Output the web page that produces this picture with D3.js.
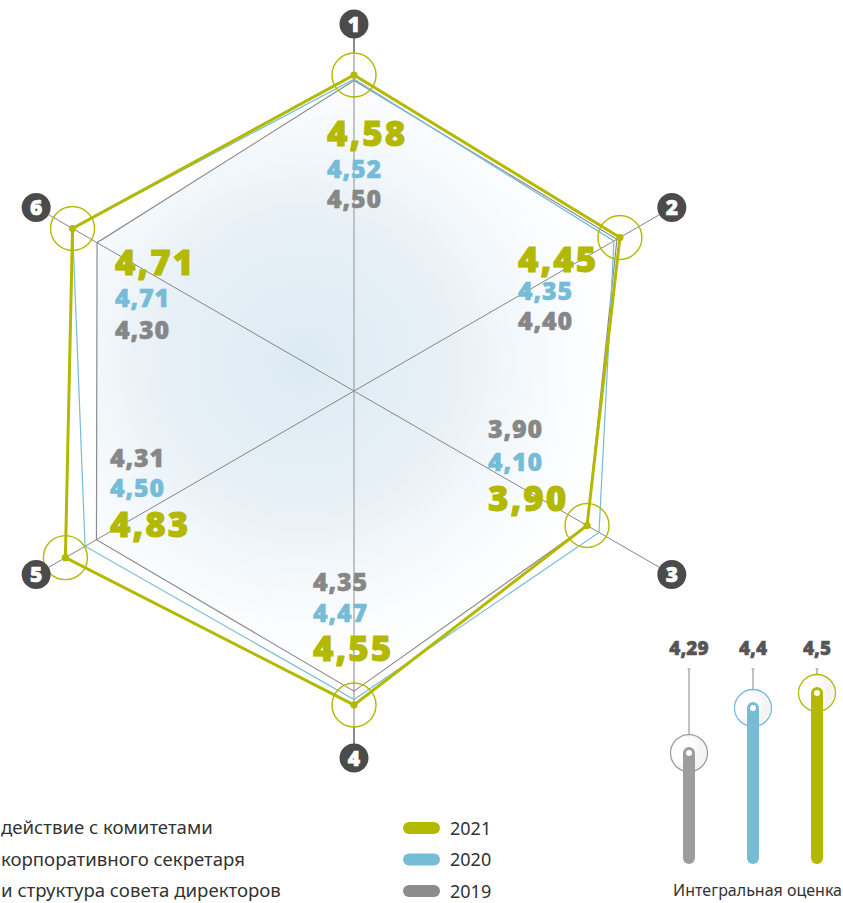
<!DOCTYPE html>
<html><head><meta charset="utf-8">
<script src="https://cdn.jsdelivr.net/npm/d3@7/dist/d3.min.js"></script>
<style>
html,body{margin:0;padding:0;background:#fff;}
svg{display:block;}
</style></head>
<body>
<svg id="chart" width="843" height="903"></svg>
<script>
// ---- data ----
const axisIds = ["1","2","3","4","5","6"];
const years = ["2021","2020","2019"];
const values2021 = [4.58, 4.45, 3.90, 4.55, 4.83, 4.71];
const values2020 = [4.52, 4.35, 4.10, 4.47, 4.50, 4.71];
const values2019 = [4.50, 4.40, 3.90, 4.35, 4.31, 4.30];
const legendTexts = ["действие с комитетами", "корпоративного секретаря", "и структура совета директоров"];
const integralYears = ["2019","2020","2021"];
const integralValues = [4.29, 4.4, 4.5];
const integralLabels = ["4,29","4,4","4,5"];
const integralTitle = "Интегральная оценка";

// ---- styles ----
const colors = {"2021":"#b3b800","2020":"#76bcd7","2019":"#8c8c8c"};
const fmt = v => v.toFixed(2).replace(".", ",");

const svg = d3.select("#chart");
const cx = 354, cy = 391;
const r = d3.scaleLinear().domain([0, 5]).range([0, 345]);
const angle = i => i * Math.PI / 3; // clockwise from up
const pt = (i, rad) => [cx + rad * Math.sin(angle(i)), cy - rad * Math.cos(angle(i))];

const defs = svg.append("defs");
const rg = defs.append("radialGradient").attr("id","bg").attr("gradientUnits","userSpaceOnUse")
  .attr("cx", cx - 50).attr("cy", cy - 30).attr("r", 310);
rg.append("stop").attr("offset","0").attr("stop-color","#dcebf3");
rg.append("stop").attr("offset","0.45").attr("stop-color","#e7f0f6");
rg.append("stop").attr("offset","0.8").attr("stop-color","#f8fbfd");
rg.append("stop").attr("offset","1").attr("stop-color","#ffffff");

const lineGen = d3.line();
const polyPts = vals => vals.map((v,i) => pt(i, r(v)));

// background fill
svg.append("path").attr("d", lineGen(polyPts(values2019)) + "Z").attr("fill","url(#bg)");

// axes
const badgeR = 367;
axisIds.forEach((id,i) => {
  const [x2,y2] = pt(i, badgeR - 14);
  svg.append("line").attr("x1",cx).attr("y1",cy).attr("x2",x2).attr("y2",y2)
    .attr("stroke", (i%3===0) ? "#b4b4b4" : "#858585")
    .attr("stroke-width", (i%3===0) ? 1.6 : 1);
  if (i%3===0) {
    const [xa,ya] = pt(i, r(values2021[i]) + 22);
    svg.append("line").attr("x1",xa).attr("y1",ya).attr("x2",x2).attr("y2",y2)
      .attr("stroke","#7d7d7d").attr("stroke-width",1.6);
  }
});

// polygons
[["2019",values2019,1.2],["2020",values2020,1.2],["2021",values2021,3]].forEach(([y,vals,w]) => {
  svg.append("path").attr("d", lineGen(polyPts(vals)) + "Z")
    .attr("fill","none").attr("stroke", colors[y]).attr("stroke-width", w)
    .attr("stroke-linejoin","miter");
});

// 2021 markers
polyPts(values2021).forEach(([x,y]) => {
  svg.append("circle").attr("cx",x).attr("cy",y).attr("r",22)
    .attr("fill","none").attr("stroke",colors["2021"]).attr("stroke-width",1.4);
  svg.append("circle").attr("cx",x).attr("cy",y).attr("r",3.6).attr("fill",colors["2021"]);
});

// value labels: layout per axis [left x, baseline 2021, 2020, 2019]
const labelLayout = [
  [327, 146, 178, 208],
  [518, 272, 300, 330],
  [488, 511, 471, 438],
  [313, 661, 622, 591],
  [110, 537, 497, 467],
  [115, 275, 307, 339]
];
const font = "'Open Sans', sans-serif";
axisIds.forEach((id,i) => {
  const L = labelLayout[i];
  [[values2021,"2021",35,L[1]],[values2020,"2020",25,L[2]],[values2019,"2019",25,L[3]]].forEach(([vals,y,fs,base]) => {
    svg.append("text").attr("x",L[0]).attr("y",base)
      .attr("font-family",font).attr("font-weight",800).attr("font-size",fs)
      .attr("letter-spacing", fs > 30 ? 2 : 0.8)
      .attr("stroke", y==="2019" ? "#878787" : colors[y]).attr("stroke-width", fs > 30 ? 0.9 : 0.5)
      .attr("fill", y==="2019" ? "#878787" : colors[y])
      .text(fmt(vals[i]));
  });
});

// badges
axisIds.forEach((id,i) => {
  const [x,y] = pt(i, badgeR);
  svg.append("circle").attr("cx",x).attr("cy",y).attr("r",14.5).attr("fill","#4b4b4b");
  svg.append("text").attr("x",x).attr("y",y+7.5).attr("text-anchor","middle")
    .attr("font-family",font).attr("font-weight",800).attr("font-size",21)
    .attr("stroke","#fff").attr("stroke-width",0.6)
    .attr("fill","#fff").text(id);
});

// legend left
const legendY = d3.scalePoint().domain(legendTexts).range([828, 891]);
legendTexts.forEach(t => {
  svg.append("text").attr("x",1).attr("y",legendY(t)+6)
    .attr("font-family","'Noto Sans', sans-serif").attr("font-size",18.6)
    .attr("fill","#333").text(t);
});
// legend years
const yearY = d3.scalePoint().domain(years).range([828, 891]);
years.forEach(y => {
  svg.append("rect").attr("x",403).attr("y",yearY(y)-6).attr("width",37).attr("height",12)
    .attr("rx",6).attr("fill",colors[y]);
  svg.append("text").attr("x",450).attr("y",yearY(y)+6.5)
    .attr("font-family","'Noto Sans', sans-serif").attr("font-size",18)
    .attr("fill","#333").text(y);
});

// integral bars
const bx = d3.scalePoint().domain(integralYears).range([689, 817]);
const by = d3.scaleLinear().domain([4.2, 4.4, 4.6]).range([790, 708, 678]);
const barBottom = 858;
const haloG = defs.append("radialGradient").attr("id","halo").attr("cx","0.3").attr("cy","0.4");
haloG.append("stop").attr("offset","0.6").attr("stop-color","#ffffff").attr("stop-opacity",0.95);
haloG.append("stop").attr("offset","1").attr("stop-color","#f4f4f4").attr("stop-opacity",0.95);
integralYears.forEach((y,i) => {
  const x = bx(y), yy = by(integralValues[i]);
  svg.append("line").attr("x1",x).attr("x2",x).attr("y1",669).attr("y2",yy)
    .attr("stroke","#999").attr("stroke-width",1.2);
  svg.append("line").attr("x1",x-1.5).attr("x2",x+1.5).attr("y1",669).attr("y2",669)
    .attr("stroke","#999").attr("stroke-width",1);
  svg.append("circle").attr("cx",x).attr("cy",yy).attr("r",18.5)
    .attr("fill","url(#halo)").attr("stroke", y==="2019" ? "#9d9d9d" : colors[y]).attr("stroke-width",1.3);
  svg.append("line").attr("x1",x).attr("x2",x).attr("y1",yy).attr("y2",barBottom)
    .attr("stroke", y==="2019" ? "#9d9d9d" : colors[y]).attr("stroke-width",12).attr("stroke-linecap","round");
  svg.append("circle").attr("cx",x).attr("cy",yy).attr("r",3).attr("fill","#fff");
  svg.append("text").attr("x",x).attr("y",655).attr("text-anchor","middle")
    .attr("font-family",font).attr("font-weight",800).attr("font-size",19)
    .attr("stroke","#555").attr("stroke-width",0.5)
    .attr("fill","#555").text(integralLabels[i]);
});
svg.append("text").attr("x",842).attr("y",896).attr("text-anchor","end")
  .attr("font-family","'Noto Sans', sans-serif").attr("font-size",16)
  .attr("fill","#333").text(integralTitle);
</script>
</body></html>
